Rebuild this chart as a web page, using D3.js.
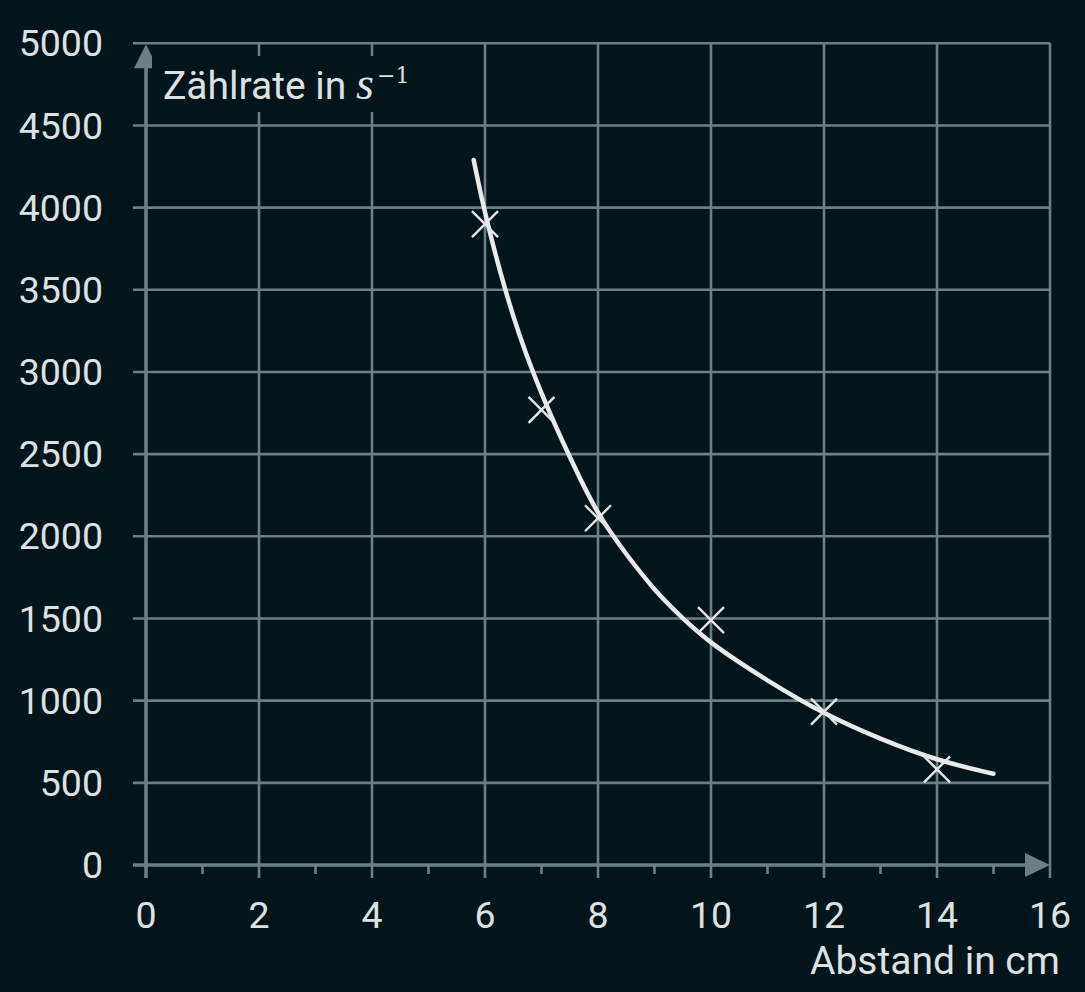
<!DOCTYPE html>
<html>
<head>
<meta charset="utf-8">
<script src="https://cdn.jsdelivr.net/npm/d3@7"></script>
<style>
  html, body { margin: 0; padding: 0; background: #03141a; }
  svg { display: block; }
</style>
</head>
<body>
<svg id="chart" width="1085" height="992"></svg>
<script>
// ---- data ----
const measuredX = [6, 7, 8, 10, 12, 14];
const measuredY = [3900, 2770, 2110, 1490, 933, 582];
const fitX = [5.8, 6, 6.5, 7, 7.5, 8, 8.5, 9, 9.5, 10, 11, 12, 13, 14, 15];
const fitY = [4290, 3950, 3310, 2860, 2480, 2125, 1890, 1670, 1500, 1345, 1120, 918, 765, 635, 555];
const xTicks = [0, 2, 4, 6, 8, 10, 12, 14, 16];
const xMinorTicks = [1, 3, 5, 7, 9, 11, 13, 15];
const yTicks = [0, 500, 1000, 1500, 2000, 2500, 3000, 3500, 4000, 4500, 5000];
const xTitle = "Abstand in cm";
const yTitle = "Zählrate in ";

(function () {
// ---- styles ----
const bg = "#03141a";
const gridColor = "#6b7f87";
const textColor = "#dde1e1";
const curveColor = "#e9e9e9";
const font = "Roboto, 'Open Sans', sans-serif";
const serif = "'Liberation Serif', 'DejaVu Serif', serif";

const svg = d3.select("#chart");
svg.append("rect").attr("width", 1085).attr("height", 992).attr("fill", bg);

const mLeft = 146, mRight = 1050, mTop = 43.3, mBottom = 865;
const x = d3.scaleLinear().domain([0, 16]).range([mLeft, mRight]);
const y = d3.scaleLinear().domain([0, 5000]).range([mBottom, mTop]);

const g = svg.append("g");

// vertical grid lines (incl. major tick below axis)
g.selectAll("line.vgrid").data(xTicks.filter(d => d > 0)).join("line")
  .attr("x1", d => x(d)).attr("x2", d => x(d))
  .attr("y1", y(5000)).attr("y2", mBottom + 13)
  .attr("stroke", gridColor).attr("stroke-width", 2.6);

// horizontal grid lines (incl. tick left of axis)
g.selectAll("line.hgrid").data(yTicks.filter(d => d > 0)).join("line")
  .attr("x1", mLeft - 13).attr("x2", mRight)
  .attr("y1", d => y(d)).attr("y2", d => y(d))
  .attr("stroke", gridColor).attr("stroke-width", 2.6);

// minor x ticks
g.selectAll("line.minor").data(xMinorTicks).join("line")
  .attr("x1", d => x(d)).attr("x2", d => x(d))
  .attr("y1", mBottom).attr("y2", mBottom + 9)
  .attr("stroke", gridColor).attr("stroke-width", 2.6);

// axes
g.append("line").attr("x1", mLeft - 13).attr("x2", mRight - 20)
  .attr("y1", y(0)).attr("y2", y(0))
  .attr("stroke", gridColor).attr("stroke-width", 3.6);
g.append("line").attr("x1", x(0)).attr("x2", x(0))
  .attr("y1", mBottom + 13).attr("y2", mTop + 20)
  .attr("stroke", gridColor).attr("stroke-width", 3.6);

// arrows
g.append("path")
  .attr("d", `M${mRight},${y(0)} L${mRight - 25},${y(0) - 12} L${mRight - 25},${y(0) + 12} Z`)
  .attr("fill", gridColor);
g.append("path")
  .attr("d", `M${x(0)},${mTop + 1} L${x(0) - 12},${mTop + 25} L${x(0) + 12},${mTop + 25} Z`)
  .attr("fill", gridColor);

// y tick labels
g.selectAll("text.ylab").data(yTicks).join("text")
  .attr("x", 103).attr("y", d => y(d)).attr("dy", "0.35em")
  .attr("text-anchor", "end")
  .attr("fill", textColor).attr("font-family", font).attr("font-size", 37.5)
  .text(d => d);

// x tick labels
g.selectAll("text.xlab").data(xTicks).join("text")
  .attr("x", d => x(d)).attr("y", 928)
  .attr("text-anchor", "middle")
  .attr("fill", textColor).attr("font-family", font).attr("font-size", 37.5)
  .text(d => d);

// x title
g.append("text").attr("x", 1060).attr("y", 974)
  .attr("text-anchor", "end")
  .attr("fill", textColor).attr("font-family", font).attr("font-size", 39)
  .text(xTitle);

// y title with background box
g.append("rect").attr("x", 152).attr("y", 56).attr("width", 272).attr("height", 56)
  .attr("fill", bg);
const yt = g.append("text").attr("x", 163).attr("y", 98.5)
  .attr("fill", textColor).attr("font-family", font).attr("font-size", 39);
yt.append("tspan").text(yTitle);
yt.append("tspan").attr("font-family", serif)
  .attr("font-style", "italic").attr("font-size", 46).text("s");
yt.append("tspan").attr("font-family", "'DejaVu Serif', serif")
  .attr("font-size", 22).attr("x", 377).attr("y", 83).text("−1");

// fitted curve
const fitData = fitX.map((d, i) => [d, fitY[i]]);
g.append("path").datum(fitData)
  .attr("d", d3.line().x(d => x(d[0])).y(d => y(d[1])).curve(d3.curveBasis))
  .attr("fill", "none").attr("stroke", curveColor).attr("stroke-width", 4.5)
  .attr("stroke-linecap", "round");

// measured points as crosses
const pts = measuredX.map((d, i) => [d, measuredY[i]]);
const s = 13;
g.selectAll("path.cross").data(pts).join("path")
  .attr("d", d => {
    const cx = x(d[0]), cy = y(d[1]);
    return `M${cx - s},${cy - s}L${cx + s},${cy + s}M${cx - s},${cy + s}L${cx + s},${cy - s}`;
  })
  .attr("stroke", "#e4e6e6").attr("stroke-width", 2.4).attr("fill", "none");
})();
</script>
</body>
</html>
